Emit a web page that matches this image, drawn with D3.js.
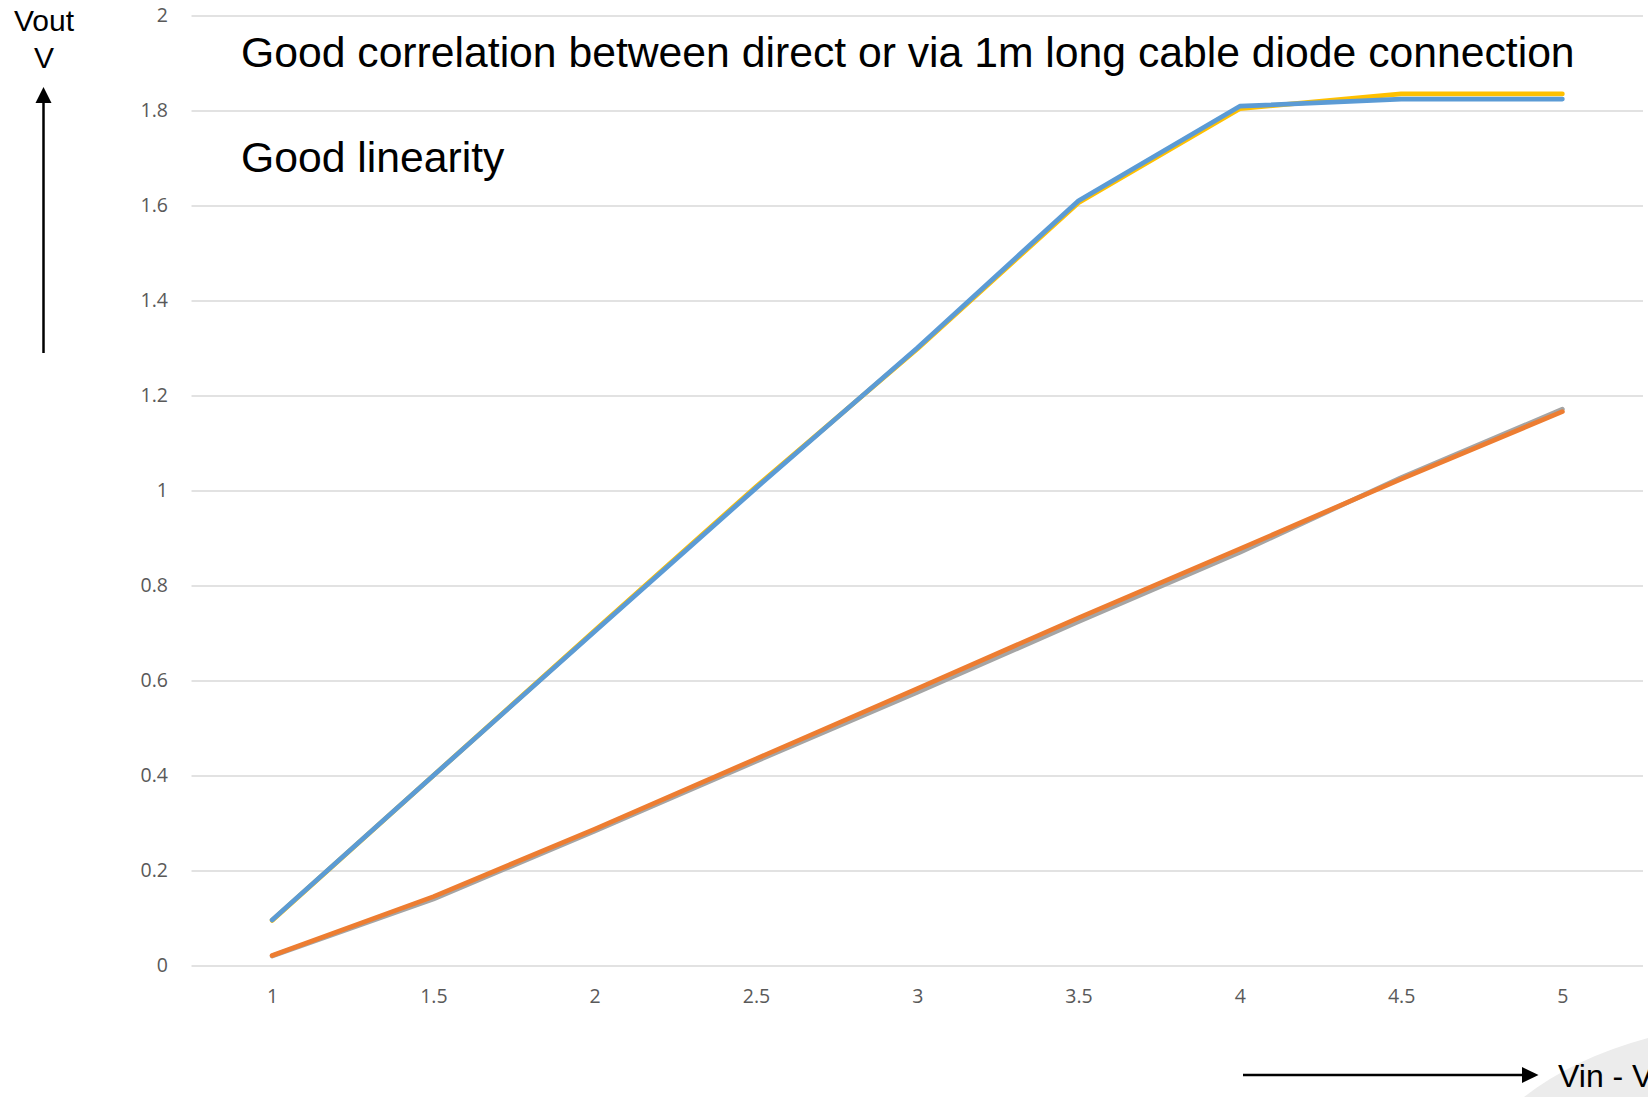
<!DOCTYPE html>
<html>
<head>
<meta charset="utf-8">
<script src="https://cdn.jsdelivr.net/npm/d3@7"></script>
<style>
  body { margin: 0; background: #fff; }
  svg { display: block; }
  .tick text { font-family: "Open Sans", sans-serif; font-size: 19.5px; fill: #595959; }
  .note { font-family: "Liberation Sans", Arial, sans-serif; fill: #000; }
</style>
</head>
<body>
<div id="chart"></div>
<script>
// Vin values on the category axis
const categories = [1, 1.5, 2, 2.5, 3, 3.5, 4, 4.5, 5];
const yTicks = [0, 0.2, 0.4, 0.6, 0.8, 1, 1.2, 1.4, 1.6, 1.8, 2];
const yTickLabels = ["0", "0.2", "0.4", "0.6", "0.8", "1", "1.2", "1.4", "1.6", "1.8", "2"];

// Vout readings, one array per trace
const seriesBlue = [0.096, 0.40, 0.703, 1.005, 1.30, 1.61, 1.809, 1.824, 1.824];
const seriesOrange = [0.021, 0.145, 0.287, 0.435, 0.583, 0.732, 0.877, 1.024, 1.166];
const seriesGray = [0.02, 0.14, 0.283, 0.43, 0.575, 0.724, 0.870, 1.027, 1.171];
const seriesYellow = [0.095, 0.40, 0.705, 1.008, 1.298, 1.606, 1.804, 1.835, 1.835];

const notes = ["Good correlation between direct or via 1m long cable diode connection", "Good linearity"];

const WIDTH = 1648, HEIGHT = 1097;
const PLOT_LEFT = 191.5, PLOT_RIGHT = 1643, PLOT_TOP = 15.5, PLOT_BOTTOM = 965.5;

const svg = d3.select("#chart").append("svg")
    .attr("width", WIDTH)
    .attr("height", HEIGHT);

// light decoration in the lower right corner of the slide
svg.append("path")
    .attr("d", "M1524,1097 Q1574,1058 1648,1038 L1648,1097 Z")
    .attr("fill", "#ececec");

const x = d3.scalePoint()
    .domain(categories)
    .range([PLOT_LEFT, PLOT_RIGHT])
    .padding(0.5);

const y = d3.scaleLinear()
    .domain([0, 2])
    .range([PLOT_BOTTOM, PLOT_TOP]);

// gridlines + y labels
const yAxis = svg.append("g")
    .attr("transform", "translate(" + PLOT_LEFT + ",0)")
    .call(d3.axisLeft(y)
        .tickValues(yTicks)
        .tickFormat((d, i) => yTickLabels[i])
        .tickSize(-(PLOT_RIGHT - PLOT_LEFT))
        .tickPadding(23.5));
yAxis.select(".domain").remove();
yAxis.selectAll(".tick line")
    .attr("stroke", "#d9d9d9")
    .attr("stroke-width", 1.5);

// x labels
const xAxis = svg.append("g")
    .attr("transform", "translate(0," + PLOT_BOTTOM + ")")
    .call(d3.axisBottom(x).tickSize(0));
xAxis.select(".domain").remove();
xAxis.selectAll(".tick text")
    .attr("y", 31)
    .attr("dy", "0.35em");

const line = d3.line()
    .x((d, i) => x(categories[i]))
    .y(d => y(d));

// draw order keeps blue over yellow and orange over grey
const traces = [
    { values: seriesGray, color: "#a5a5a5" },
    { values: seriesYellow, color: "#ffc000" },
    { values: seriesOrange, color: "#ed7d31" },
    { values: seriesBlue, color: "#5b9bd5" }
];

svg.append("g").selectAll("path")
    .data(traces)
    .join("path")
    .attr("d", d => line(d.values))
    .attr("fill", "none")
    .attr("stroke", d => d.color)
    .attr("stroke-width", 4.75)
    .attr("stroke-linecap", "round")
    .attr("stroke-linejoin", "round");

// annotations
svg.append("text").attr("class", "note")
    .attr("x", 241).attr("y", 67)
    .attr("font-size", 42.7)
    .text(notes[0]);
svg.append("text").attr("class", "note")
    .attr("x", 241).attr("y", 172)
    .attr("font-size", 42.7)
    .text(notes[1]);

// axis captions with arrows
svg.append("text").attr("class", "note")
    .attr("x", 44).attr("y", 31)
    .attr("font-size", 30)
    .attr("text-anchor", "middle")
    .text("Vout");
svg.append("text").attr("class", "note")
    .attr("x", 44).attr("y", 68)
    .attr("font-size", 30)
    .attr("text-anchor", "middle")
    .text("V");

svg.append("line")
    .attr("x1", 43.5).attr("y1", 353)
    .attr("x2", 43.5).attr("y2", 100)
    .attr("stroke", "#000").attr("stroke-width", 2.5);
svg.append("path")
    .attr("d", "M43.5,87 L51.5,103 L35.5,103 Z")
    .attr("fill", "#000");

svg.append("line")
    .attr("x1", 1243).attr("y1", 1075)
    .attr("x2", 1524).attr("y2", 1075)
    .attr("stroke", "#000").attr("stroke-width", 2.5);
svg.append("path")
    .attr("d", "M1538.5,1075 L1522,1067 L1522,1083 Z")
    .attr("fill", "#000");

svg.append("text").attr("class", "note")
    .attr("x", 1558).attr("y", 1087)
    .attr("font-size", 32)
    .text("Vin - V");
</script>
</body>
</html>
